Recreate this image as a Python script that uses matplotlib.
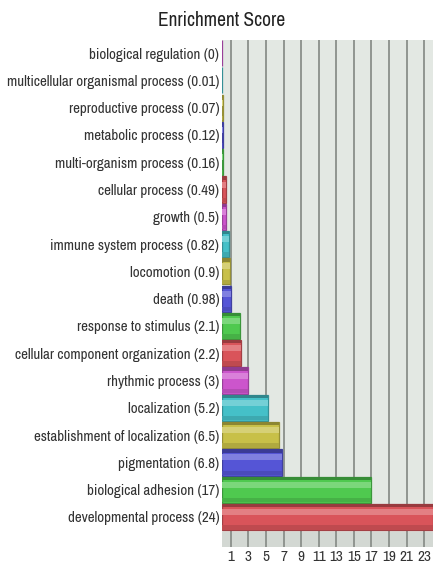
import matplotlib
matplotlib.use("Agg")
import matplotlib.pyplot as plt
import numpy as np
from matplotlib.colors import to_rgb

categories = [
    "biological regulation (0)",
    "multicellular organismal process (0.01)",
    "reproductive process (0.07)",
    "metabolic process (0.12)",
    "multi-organism process (0.16)",
    "cellular process (0.49)",
    "growth (0.5)",
    "immune system process (0.82)",
    "locomotion (0.9)",
    "death (0.98)",
    "response to stimulus (2.1)",
    "cellular component organization (2.2)",
    "rhythmic process (3)",
    "localization (5.2)",
    "establishment of localization (6.5)",
    "pigmentation (6.8)",
    "biological adhesion (17)",
    "developmental process (24)",
]
values = [0, 0.01, 0.07, 0.12, 0.16, 0.49, 0.5, 0.82, 0.9, 0.98,
          2.1, 2.2, 3, 5.2, 6.5, 6.8, 17, 24]
xticks = list(range(1, 24, 2))
palette = ["#cc55cc", "#45c0c8", "#c8c048", "#5555d6", "#4fc94f", "#d9545a"]
title = "Enrichment Score"

FONT = ["Archivo Narrow", "Roboto Condensed", "DejaVu Sans"]

W, H = 433, 567
fig = plt.figure(figsize=(W / 100, H / 100), dpi=100)
ax = fig.add_axes([222 / W, 1 - 547 / H, 1 - 222 / W, (547 - 40) / H])

n = len(categories)
ypos = np.arange(n)
colors = [palette[i % len(palette)] for i in range(n)]

def shade(c, f):
    r, g, b = to_rgb(c)
    if f < 1:
        return (r * f, g * f, b * f)
    f = f - 1
    return (r + (1 - r) * f, g + (1 - g) * f, b + (1 - b) * f)

ax.set_facecolor("#e3e8e3")
ax.set_xlim(0, 24.0)
ax.set_ylim(18.1, -0.48)

# floor strip
ax.axhspan(17.55, 18.1, color="#d3d8d3", zorder=0.5)

bh = 0.96
ax.barh(ypos, values, height=bh, color=colors,
        edgecolor=[shade(c, 0.75) for c in colors], linewidth=0.9, zorder=3)
# top dark band (3D top face)
ax.barh(ypos - bh / 2 + 0.06, values, height=0.12,
        color=[shade(c, 0.7) for c in colors], linewidth=0, zorder=4)
# highlight band
ax.barh(ypos - bh / 2 + 0.3, values, height=0.22,
        color=[shade(c, 1.25) for c in colors], linewidth=0, zorder=4)
# lower shade band
ax.barh(ypos + bh / 2 - 0.1, values, height=0.16,
        color=[shade(c, 0.88) for c in colors], linewidth=0, zorder=4)

ax.set_xticks(xticks)
ax.set_xticklabels([str(t) for t in xticks], family=FONT, fontsize=11, color="#333333")
ax.set_yticks(ypos)
ax.set_yticklabels(categories, family=FONT, fontsize=10.8, color="#333333")
ax.tick_params(axis="both", length=0)
ax.tick_params(axis="x", pad=2)
ax.tick_params(axis="y", pad=2)
ax.grid(axis="x", color="#8a8f8a", linewidth=1.3)
ax.set_axisbelow(True)
for s in ax.spines.values():
    s.set_visible(False)

fig.text(222 / W, 1 - 20 / H, title, ha="center", va="center",
         family=FONT, fontsize=14, color="#222222")

fig.savefig("out.png", dpi=100, facecolor="white")
